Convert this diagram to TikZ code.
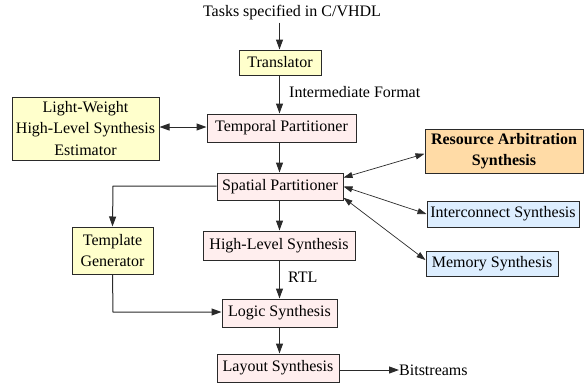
\documentclass[tikz,border=0pt]{standalone}
\usepackage{fontspec}
\setmainfont{Liberation Serif}
\usetikzlibrary{arrows.meta,calc}
\definecolor{boxyellow}{HTML}{FFFFCC}
\definecolor{boxpink}{HTML}{FFEEEE}
\definecolor{boxorange}{HTML}{FFDBA6}
\definecolor{boxblue}{HTML}{DDEEFF}
\definecolor{edgegray}{HTML}{2A2A2A}
\begin{document}
\begin{tikzpicture}[x=1pt,y=-1pt,
  font=\fontsize{16pt}{21.5pt}\selectfont,
  box/.style={draw=edgegray,line width=1pt,inner sep=0pt,align=center},
  ybox/.style={box,fill=boxyellow},
  pbox/.style={box,fill=boxpink},
  obox/.style={box,fill=boxorange,font=\fontsize{16pt}{21.5pt}\selectfont\bfseries},
  bbox/.style={box,fill=boxblue},
  flow/.style={draw=edgegray,line width=1pt,-{Triangle[length=10pt,width=7pt]}},
  both/.style={draw=edgegray,line width=0.7pt,{Triangle[length=9pt,width=6pt]}-{Triangle[length=9pt,width=6pt]}},
  lbl/.style={inner sep=0pt,anchor=west}]
\useasboundingbox (0,0) rectangle (584,384);

% nodes
\node[inner sep=0pt] (tasks) at (292,13) {Tasks specified in C/VHDL};
\node[ybox,minimum width=82pt,minimum height=25pt] (trans) at (280,62.5) {Translator};
\node[pbox,minimum width=149pt,minimum height=28pt] (temp) at (281.5,128) {Temporal Partitioner};
\node[ybox,minimum width=147pt,minimum height=63pt] (light) at (85.5,128.5) {Light-Weight\\High-Level Synthesis\\Estimator};
\node[pbox,minimum width=126pt,minimum height=27pt] (spat) at (280,186.5) {Spatial Partitioner};
\node[obox,minimum width=158pt,minimum height=44pt] (res) at (504,151) {Resource Arbitration\\Synthesis};
\node[bbox,minimum width=152pt,minimum height=26pt] (inter) at (503,214) {Interconnect Synthesis};
\node[bbox,minimum width=132pt,minimum height=25pt] (mem) at (492,263.5) {Memory Synthesis};
\node[ybox,minimum width=81pt,minimum height=47pt] (tmpl) at (112.5,250.5) {Template\\Generator};
\node[pbox,minimum width=152pt,minimum height=29pt] (hls) at (279,245.5) {High-Level Synthesis};
\node[pbox,minimum width=115pt,minimum height=28pt] (logic) at (279.5,313) {Logic Synthesis};
\node[pbox,minimum width=122pt,minimum height=28pt] (lay) at (278,368) {Layout Synthesis};
\node[inner sep=0pt,anchor=west] (bits) at (399,370) {Bitstreams};
\coordinate (tl) at (113,186);
\coordinate (tb) at (113,312);

% edge labels
\node[lbl] (imf) at (289,92) {Intermediate Format};
\node[lbl] (rtl) at (288,277) {RTL};

% connectors
\draw[flow] (279.5,0 |- tasks.south) ++(0,2) -- (279.5,0 |- trans.north);
\draw[flow] (279.5,0 |- trans.south) -- (279.5,0 |- temp.north);
\draw[flow] (279.5,0 |- temp.south) -- (279.5,0 |- spat.north);
\draw[flow] (279.5,0 |- spat.south) -- (279.5,0 |- hls.north);
\draw[flow] (279.5,0 |- hls.south) -- (279.5,0 |- logic.north);
\draw[flow] (279.5,0 |- logic.south) -- (279.5,0 |- lay.north);
\draw[draw=edgegray,line width=1pt,{Triangle[length=10pt,width=7pt]}-{Triangle[length=10pt,width=7pt]}]
  (light.east |- 0,127) -- (temp.west |- 0,127);
\draw[flow] (spat.west |- tl) -- (tl) -- (tmpl.north);
\draw[flow] (tmpl.south) -- (tb) -- (logic.west |- tb);
\draw[flow] (lay.east |- bits) -- (bits.west);
\draw[both] (spat.8) -- (res.182);
\draw[both] (spat.east) -- (inter.west);
\draw[both] (spat.-10) -- (mem.177);
\end{tikzpicture}
\end{document}
